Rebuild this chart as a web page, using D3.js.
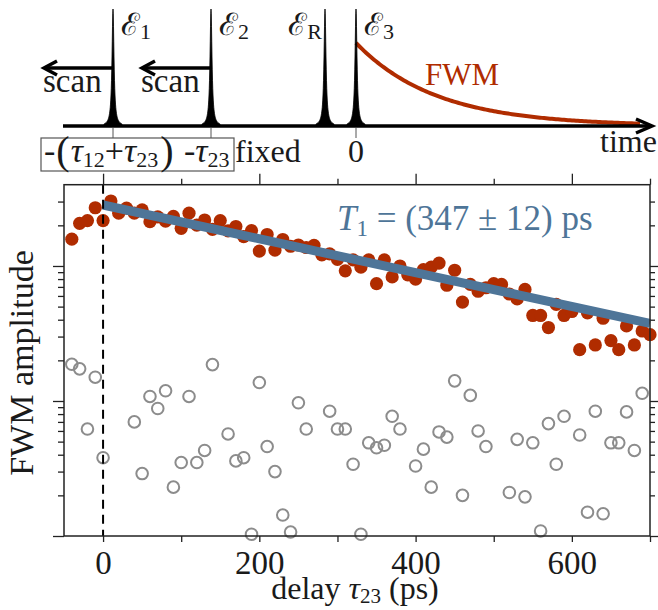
<!DOCTYPE html>
<html><head><meta charset="utf-8">
<script src="https://cdn.jsdelivr.net/npm/d3@7"></script>
<style>
body{margin:0;background:#fff}
svg{display:block}
</style>
</head><body>
<svg id="c" width="658" height="610"></svg>
<script>
// ---------- data ----------
const redDelay = [-40,-30,-20,-10,0,10,20,30,40,50,60,70,80,90,100,110,120,130,140,150,160,170,180,190,200,210,220,230,240,250,260,270,280,290,300,310,320,330,340,350,360,370,380,390,400,410,420,430,440,450,460,470,480,490,500,510,520,530,540,550,560,570,580,590,600,610,620,630,640,650,660,670,680,690,700];
const redAmp = [158,207,217,270,217,303,246,268,246,260,213,231,215,233,190,246,201,219,187,217,182,196,165,183,129,171,131,157,140,143,137,142,121,123,112,92,111,98,111,74,111,83,100,86,80,94,98,105,72,93,54,73,65,69,74,73,62,57,67,43,43,35,52,43,46,24,45,26,41,28,24,36,26,33,31];
const grayDelay = [-40,-30,-20,-10,0,40,50,60,70,80,90,100,110,120,130,140,160,170,180,190,200,210,220,230,240,250,260,290,300,310,320,330,340,350,360,370,380,400,410,420,430,440,450,460,470,480,490,520,530,540,550,560,570,580,590,610,620,630,640,650,660,670,680,690];
const grayAmp = [18.7,17.3,6.2,15.0,3.8,7.0,2.9,10.8,8.8,11.9,2.3,3.5,10.8,3.5,4.3,18.6,5.7,3.6,3.8,1.03,13.7,4.6,3.0,1.43,1.07,9.7,6.2,8.4,6.2,6.2,3.4,1.03,4.9,4.5,4.7,7.7,6.2,3.3,4.4,2.3,5.9,5.4,14.1,2.0,11.0,6.0,4.6,2.1,5.2,1.95,4.9,1.09,6.8,3.4,7.7,5.6,1.5,8.4,1.46,4.9,4.9,8.3,4.3,11.4];
const fitDelay = [0,700];
const fitAmp = [283,37.6];
const xMajorTicks = [0,200,400,600];
const xMinorTicks = [100,300,500,700];
const yMajorTicks = [1,10,100];
const yMinorTicks = [2,3,4,5,6,7,8,9,20,30,40,50,60,70,80,90,200,300];
// schematic pulses (arbitrary time units, E3 at 0)
const pulseNames = ["1","2","R","3"];
const pulseTimes = [-243,-145,-31,0];
const scanFrom = ["1","2"];

const RED = "#b02c00", BLUE = "#4e7598", GRAY = "#8c8c8c", INK = "#1a1a1a";
const SERIF = '"Liberation Serif", serif';

const svg = d3.select("#c").style("font-family", SERIF);
function txt(parent, x, y, size, color){
  return parent.append("text").attr("x",x).attr("y",y)
    .style("font-family",SERIF).style("font-size",size+"px").style("fill",color||INK);
}
function sub(t, s, size, dy){ return t.append("tspan").style("font-size",size+"px").attr("dy",dy).text(s); }

// ---------- schematic ----------
const sx = d3.scaleLinear().domain([-300,300]).range([56,656]);
const sy = d3.scaleLinear().domain([0,1]).range([126,9]);
const g0 = svg.append("g");

// FWM decay curve
const fwmT = d3.range(0,286,2);
g0.append("path")
  .attr("d", d3.line().x(t=>sx(t)).y(t=>sy(0.71*Math.exp(-t/80)))(fwmT))
  .attr("fill","none").attr("stroke",RED).attr("stroke-width",4);

// time axis
g0.append("line").attr("x1",sx(-293)).attr("x2",sx(295)).attr("y1",sy(0)).attr("y2",sy(0))
  .attr("stroke","#000").attr("stroke-width",3.5);
g0.append("path").attr("d",`M${sx(280)},${sy(0)-7}L${sx(296)},${sy(0)}L${sx(280)},${sy(0)+7}`)
  .attr("fill","none").attr("stroke","#000").attr("stroke-width",3.5);

// pulses
const pdx = d3.range(-9,9.01,0.25);
pulseTimes.forEach((t,i)=>{
  g0.append("path")
    .attr("d", d3.area().x(d=>sx(t)+d).y0(sy(0)).y1(d=>sy(1/(1+(d/1.2)*(d/1.2))))(pdx))
    .attr("fill","#000").attr("stroke","#000").attr("stroke-width",0.8);
  const isR = pulseNames[i]==="R";
  const lab = txt(g0, isR ? sx(t)-3 : sx(t)+8, 35, 31).attr("text-anchor", isR ? "end" : "start");
  lab.append("tspan").text("\u2130");
  sub(lab, pulseNames[i], 22, 4);
});

// scan arrows
scanFrom.forEach(n=>{
  const t = pulseTimes[pulseNames.indexOf(n)];
  const x0 = sx(t), tip = x0-69, yy = 68;
  g0.append("line").attr("x1",x0).attr("x2",tip+1).attr("y1",yy).attr("y2",yy)
    .attr("stroke","#000").attr("stroke-width",3.5);
  g0.append("path").attr("d",`M${tip+13},${yy-7}L${tip},${yy}L${tip+13},${yy+7}`)
    .attr("fill","none").attr("stroke","#000").attr("stroke-width",3.5);
  txt(g0, tip-1, 92, 33).text("scan");
});

// marker lines under axis
[pulseTimes[0],pulseTimes[1],pulseTimes[3]].forEach(t=>{
  g0.append("line").attr("x1",sx(t)).attr("x2",sx(t)).attr("y1",128).attr("y2",138)
    .attr("stroke","#555").attr("stroke-width",1);
});
g0.append("rect").attr("x",41).attr("y",138).attr("width",193).attr("height",33)
  .attr("fill","none").attr("stroke","#555").attr("stroke-width",1.2);

const bt = txt(g0, 44, 162, 34);
bt.append("tspan").text("-");
bt.append("tspan").style("font-size","40px").attr("dy",2).attr("dx",1).text("(");
bt.append("tspan").style("font-style","italic").attr("dy",-2).attr("dx",1).text("\u03c4");
sub(bt,"12",22,5);
bt.append("tspan").attr("dy",-5).text("+");
bt.append("tspan").style("font-style","italic").text("\u03c4");
sub(bt,"23",22,5);
bt.append("tspan").style("font-size","40px").attr("dy",-3).attr("dx",2).text(")");
bt.append("tspan").attr("dy",-2).attr("dx",2).text(" -");
bt.append("tspan").style("font-style","italic").text("\u03c4");
sub(bt,"23",22,5);

txt(g0, 235, 162, 32).text("fixed");
txt(g0, sx(0), 162, 32).attr("text-anchor","middle").text("0");
txt(g0, 600, 152, 32).text("time");
txt(g0, 425, 85, 31, RED).text("FWM");

// ---------- plot ----------
const L=64, R=650, T=184.7, B=536;
const x = d3.scaleLinear().domain([-50,700]).range([L,R]);
const y = d3.scaleLog().domain([1,400]).range([B,T]);

function axisG(gen, tx, ty){
  const g = svg.append("g").attr("transform",`translate(${tx},${ty})`).call(gen);
  g.select(".domain").remove();
  g.selectAll(".tick line").attr("stroke","#222").attr("stroke-width",1.3);
  return g;
}
// bottom
const bx = axisG(d3.axisBottom(x).tickValues(xMajorTicks).tickSize(6).tickPadding(9), 0, B);
bx.selectAll("text").style("font-family",SERIF).style("font-size","33px").style("fill",INK);
axisG(d3.axisBottom(x).tickValues(xMinorTicks).tickSize(6).tickFormat(""), 0, B);
// top
axisG(d3.axisTop(x).tickValues(xMajorTicks).tickSize(11).tickFormat(""), 0, T);
axisG(d3.axisTop(x).tickValues(xMinorTicks).tickSize(6).tickFormat(""), 0, T);
// left
axisG(d3.axisLeft(y).tickValues(yMajorTicks).tickSize(11).tickFormat(""), L, 0);
axisG(d3.axisLeft(y).tickValues(yMinorTicks).tickSize(6).tickFormat(""), L, 0);
// right
axisG(d3.axisRight(y).tickValues(yMajorTicks).tickSize(8).tickFormat(""), R, 0);
axisG(d3.axisRight(y).tickValues(yMinorTicks).tickSize(5).tickFormat(""), R, 0);

// gray reference circles
svg.append("g").selectAll("circle").data(grayDelay).join("circle")
  .attr("cx",(d)=>x(d)).attr("cy",(d,i)=>y(grayAmp[i])).attr("r",5.8)
  .attr("fill","none").attr("stroke",GRAY).attr("stroke-width",2);

// red data
svg.append("g").selectAll("circle").data(redDelay).join("circle")
  .attr("cx",(d)=>x(d)).attr("cy",(d,i)=>y(redAmp[i])).attr("r",6.6)
  .attr("fill",RED);

// fit
svg.append("path")
  .attr("d", d3.line().x((d)=>x(d)).y((d,i)=>y(fitAmp[i]))(fitDelay))
  .attr("stroke",BLUE).attr("stroke-width",9).attr("fill","none");

// dashed zero line
svg.append("line").attr("x1",x(0)).attr("x2",x(0)).attr("y1",T).attr("y2",B)
  .attr("stroke","#000").attr("stroke-width",2).attr("stroke-dasharray","9,6");

// frame
svg.append("rect").attr("x",L).attr("y",T).attr("width",R-L).attr("height",B-T)
  .attr("fill","none").attr("stroke","#222").attr("stroke-width",1.5);

// T1 label
const tl = txt(svg, 337, 230, 35, BLUE);
tl.append("tspan").style("font-style","italic").text("T");
sub(tl,"1",23,6);
tl.append("tspan").attr("dy",-6).text(" = (347 \u00b1 12) ps");

// axis labels
const xl = txt(svg, 355, 599, 32).attr("text-anchor","middle");
xl.append("tspan").text("delay ");
xl.append("tspan").style("font-style","italic").text("\u03c4");
sub(xl,"23",21,4);
xl.append("tspan").attr("dy",-4).text(" (ps)");

txt(svg, 0, 0, 34).attr("transform","translate(33,363) rotate(-90)")
  .attr("text-anchor","middle").text("FWM amplitude");
</script>
</body></html>
